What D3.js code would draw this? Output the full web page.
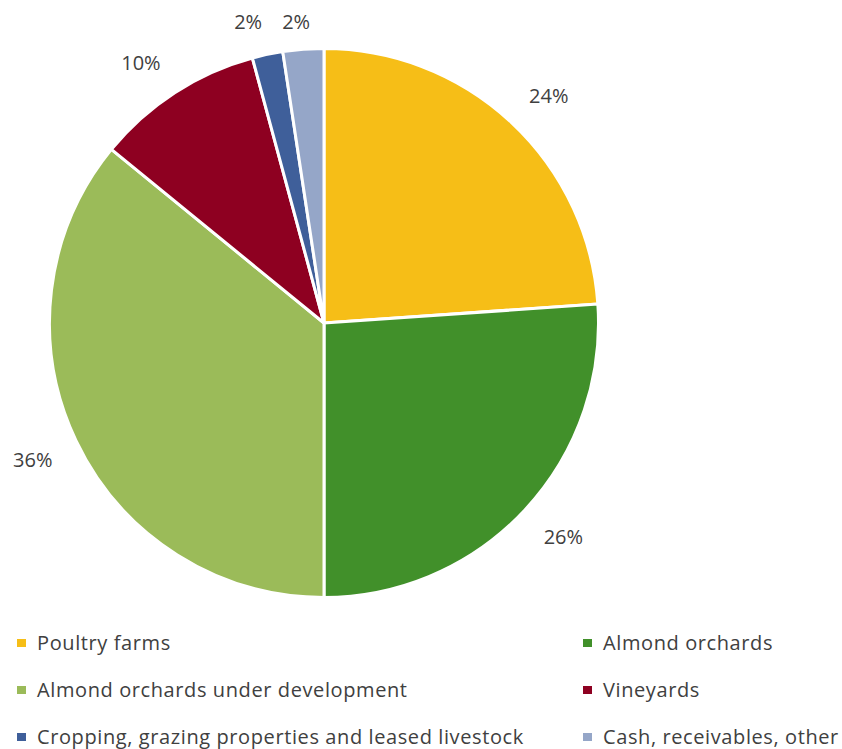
<!DOCTYPE html>
<html><head><meta charset="utf-8">
<script src="https://cdn.jsdelivr.net/npm/d3@7"></script>
<style>body{margin:0;background:#fff}svg{display:block}</style>
</head><body>
<svg id="c" width="842" height="749"></svg>
<script>
const categories = ["Poultry farms","Almond orchards","Almond orchards under development","Vineyards","Cropping, grazing properties and leased livestock","Cash, receivables, other"];
const values = [23.9, 26.1, 35.9, 9.9, 1.8, 2.4];
const labels = ["24%","26%","36%","10%","2%","2%"];
const colors = ["#F6BE17","#41902A","#9BBB59","#8E0021","#3F5F9A","#95A6C8"];

const svg = d3.select("#c");
const cx = 324, cy = 323, r = 274.5;
const g = svg.append("g").attr("transform", `translate(${cx},${cy})`);
const pie = d3.pie().sort(null).value(d => d)(values);
const arc = d3.arc().innerRadius(0).outerRadius(r);
g.selectAll("path").data(pie).join("path")
  .attr("d", arc)
  .attr("fill", (d,i) => colors[i])
  .attr("stroke", "#fff").attr("stroke-width", 3).attr("stroke-linejoin","round");

const labelArc = d3.arc().innerRadius(r + 26).outerRadius(r + 26);
const clamp = v => Math.max(-1, Math.min(1, v));
const lbl = g.selectAll("text.pct").data(pie).join("text").attr("class","pct")
  .attr("text-anchor", "middle").attr("dominant-baseline", "central")
  .attr("font-family", "'Open Sans', sans-serif").attr("font-size", 20).attr("fill", "#404040")
  .text((d,i) => labels[i]);
lbl.each(function(d) {
  const bb = this.getBBox();
  const w = bb.width, h = 16;
  const a = (d.startAngle + d.endAngle) / 2;
  const [px, py] = labelArc.centroid(d);
  const x = px + (w / 2) * clamp(5 * Math.sin(a));
  let y = py - (h / 2) * clamp(5 * Math.cos(a));
  y = Math.max(y, 13 + h / 2 - cy);
  d3.select(this).attr("x", x).attr("y", y);
});

const leg = svg.append("g");
const colX = [17, 583], rowY = [642, 689, 736];
categories.forEach((c, i) => {
  const x = colX[i % 2], y = rowY[Math.floor(i / 2)];
  leg.append("rect").attr("x", x).attr("y", y - 3).attr("width", 9).attr("height", 8).attr("fill", colors[i]);
  leg.append("text").attr("x", x + 20).attr("y", y).attr("dominant-baseline", "central")
    .attr("font-family", "'Open Sans', sans-serif").attr("font-size", 20).attr("letter-spacing", 0.6)
    .attr("fill", "#404040").text(c);
});
</script>
</body></html>
